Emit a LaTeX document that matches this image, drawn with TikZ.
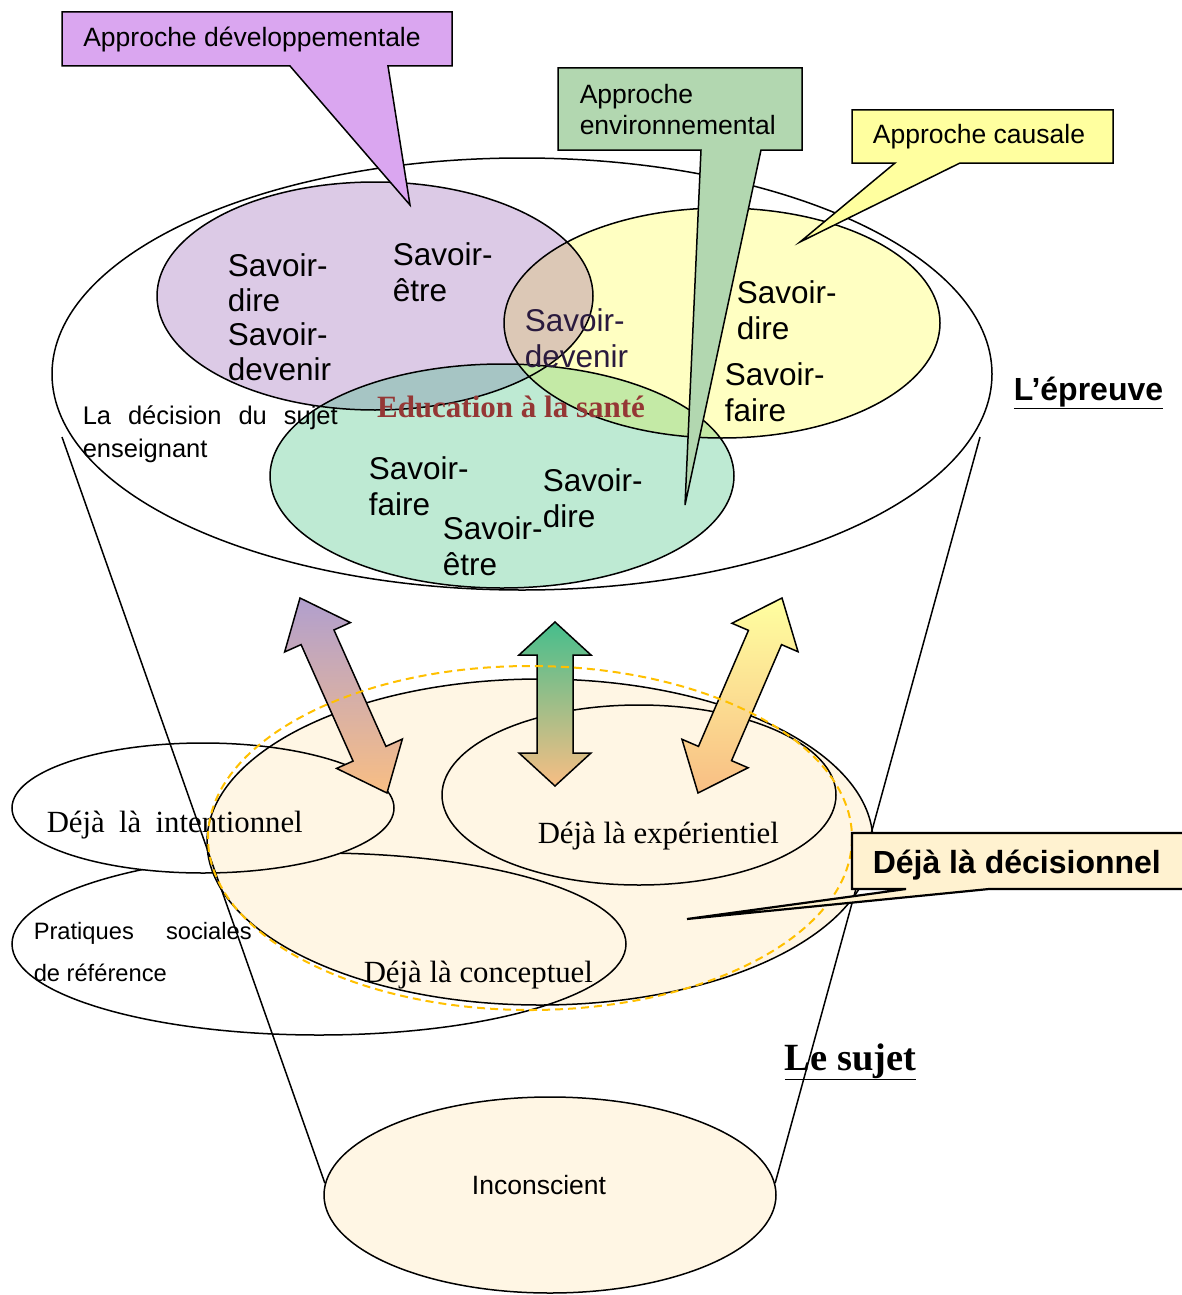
\documentclass[tikz,border=0pt]{standalone}
\usepackage{fontspec}
\setmainfont{Liberation Serif}
\setsansfont{Liberation Sans}
\usetikzlibrary{calc,shapes.geometric}

\definecolor{pfill}{HTML}{DCCAE6}
\definecolor{yfill}{HTML}{FFFFC2}
\definecolor{gfill}{HTML}{BEEAD3}
\definecolor{pyfill}{HTML}{DCC8B6}
\definecolor{pgfill}{HTML}{A6C5C4}
\definecolor{ygfill}{HTML}{C4EAA6}
\definecolor{cream}{HTML}{FFF6E4}
\definecolor{decfill}{HTML}{FFF2D0}
\definecolor{devfill}{HTML}{DAA6F0}
\definecolor{envfill}{HTML}{B2D7B0}
\definecolor{causfill}{HTML}{FFFF9F}
\definecolor{sante}{HTML}{953735}
\definecolor{aonetop}{HTML}{B19FCE}
\definecolor{atwotop}{HTML}{45BE8C}
\definecolor{athreetop}{HTML}{FFFFA0}
\definecolor{arrorange}{HTML}{F8BE84}
\definecolor{dashcol}{HTML}{FFC000}

\newcommand{\fsize}[2]{\fontsize{#1}{#2}\selectfont}

% the three approaches
\newcommand{\purpleoval}{(375,296) ellipse [x radius=218, y radius=114]}
\newcommand{\yellowoval}{(722,323) ellipse [x radius=218, y radius=115]}
\newcommand{\greenoval}{(502,476) ellipse [x radius=232, y radius=112]}
% the subject
\newcommand{\decoval}{(540,842) ellipse [x radius=333, y radius=163]}
\newcommand{\intoval}{(203,808) ellipse [x radius=191, y radius=65]}
\newcommand{\pratoval}{(319,944) ellipse [x radius=307, y radius=91]}
\newcommand{\expoval}{(639,795) ellipse [x radius=197, y radius=90]}

% double arrow between two tips, #3 = head length
\newcommand{\dblarrowpath}[3]{(#1) -- ($(#1)!#3!(#2)!36pt!90:(#2)$)
  -- ($(#1)!#3!(#2)!18pt!90:(#2)$) -- ($(#2)!#3!(#1)!18pt!-90:(#1)$)
  -- ($(#2)!#3!(#1)!36pt!-90:(#1)$) -- (#2)
  -- ($(#2)!#3!(#1)!36pt!90:(#1)$) -- ($(#2)!#3!(#1)!18pt!90:(#1)$)
  -- ($(#1)!#3!(#2)!18pt!-90:(#2)$) -- ($(#1)!#3!(#2)!36pt!-90:(#2)$) -- cycle}

\begin{document}
\begin{tikzpicture}[x=1pt, y=-1pt, line width=1.5pt,
    every node/.style={inner sep=0pt},
    savoir/.style={font=\sffamily\fsize{31.5}{36}, align=left, anchor=north west},
    dejala/.style={font=\fsize{30.8}{36}, anchor=base west},
    callout/.style={draw=black, line width=1.5pt},
    calltext/.style={font=\sffamily\fsize{26.5}{31}, align=left},
    arrowbody/.style={draw=black, line width=1.5pt, bottom color=arrorange}]
    \useasboundingbox (0,0) rectangle (1182,1295);

    % L'epreuve
    \draw (522,374) ellipse [x radius=470, y radius=216];

    % Approaches and their overlaps
    \fill[pfill] \purpleoval;
    \fill[yfill] \yellowoval;
    \fill[gfill] \greenoval;
    \begin{scope}
        \clip \purpleoval;
        \fill[pyfill] \yellowoval;
        \fill[pgfill] \greenoval;
    \end{scope}
    \begin{scope}
        \clip \yellowoval;
        \fill[ygfill] \greenoval;
    \end{scope}
    \draw \purpleoval;
    \draw \yellowoval;
    \draw \greenoval;

    % Savoirs
    \node[savoir, font=\sffamily\fsize{31.5}{34.5}] (pdire) at (227,253) {Savoir-\\dire\\Savoir-\\devenir};
    \node[savoir] (petre) at (392,242) {Savoir-\\être};
    \node[savoir, text={rgb,255:red,42;green,26;blue,62}] (pydevenir) at (524,308) {Savoir-\\devenir};
    \node[savoir] (ydire) at (736,280) {Savoir-\\dire};
    \node[savoir] (yfaire) at (724,362) {Savoir-\\faire};
    \node[savoir] (gfaire) at (368,456) {Savoir-\\faire};
    \node[savoir] (getre) at (442,516) {Savoir-\\être};
    \node[savoir] (gdire) at (542,468) {Savoir-\\dire};
    \node[font=\bfseries\fsize{31}{34}, text=sante, anchor=base] (sante) at (511,417) {Education à la santé};
    \node[font=\sffamily\fsize{25.5}{33}, align=left, anchor=north west] (decision) at (82,405)
        {\hbox to 255pt{La\hfill décision\hfill du\hfill sujet}\\enseignant};

    % Le sujet
    \fill[cream] \decoval;
    \begin{scope}[even odd rule]
        \clip (0,0) rectangle (1182,1295) \intoval;
        \draw \pratoval;
    \end{scope}
    \draw \intoval;
    \draw \expoval;
    \draw \decoval;

    \node[dejala] (intent) at (46,832) {\hbox to 256pt{Déjà\hfill là\hfill intentionnel}};
    \node[dejala] (experi) at (537,843) {Déjà là expérientiel};
    \node[dejala] (concept) at (363,982) {Déjà là conceptuel};
    \node[font=\sffamily\fsize{23.7}{42}, align=left, anchor=north west] (pratiques) at (33,922)
        {\hbox to 218pt{Pratiques\hfill sociales}\\de référence};

    \node[ellipse, draw, fill=cream, minimum width=452, minimum height=196] (incons) at (550,1195) {};
    \node[font=\sffamily\fsize{26.5}{30}] (inconslabel) at ($(incons)+(-11,-10)$) {Inconscient};

    % Cone
    \coordinate (coneL) at (62,437);
    \coordinate (coneR) at (980,437);
    \draw (coneL) -- (incons.177);
    \draw (coneR) -- (incons.3);

    % Double arrows
    \coordinate (a1t) at (300,598);
    \coordinate (a1b) at (387,793);
    \coordinate (a2t) at (555,622);
    \coordinate (a2b) at (555,786);
    \coordinate (a3t) at (782,598);
    \coordinate (a3b) at (698,793);
    \shade[arrowbody, top color=aonetop] \dblarrowpath{a1t}{a1b}{43pt};
    \shade[arrowbody, top color=atwotop] \dblarrowpath{a2t}{a2b}{33pt};
    \shade[arrowbody, top color=athreetop] \dblarrowpath{a3t}{a3b}{43pt};

    \draw[dashcol, dash pattern=on 8pt off 5pt, line width=2pt] (530,838) ellipse [x radius=322, y radius=172];

    % Callouts
    \coordinate (devtip) at (410,205);
    \coordinate (envtip) at (685,505);
    \coordinate (caustip) at (800,242);
    \coordinate (dectip) at (687,919);
    \filldraw[callout, fill=devfill] (62,12) -- (452,12) -- (452,66) -- (388,66) -- (devtip) -- (290,66) -- (62,66) -- cycle;
    \node[calltext] (devlabel) at (252,39) {Approche développementale};
    \filldraw[callout, fill=envfill] (558,68) -- (802,68) -- (802,150) -- (761,150) -- (envtip) -- (701,150) -- (558,150) -- cycle;
    \node[calltext, anchor=north west] (envlabel) at (579,84) {Approche\\environnemental};
    \filldraw[callout, fill=causfill] (852,110) -- (1113,110) -- (1113,163) -- (960,163) -- (caustip) -- (895,163) -- (852,163) -- cycle;
    \node[calltext] (causlabel) at (979,137) {Approche causale};
    \filldraw[callout, line width=2.2pt, fill=decfill] (852,833) -- (1195,833) -- (1195,889) -- (989,889) -- (dectip) -- (906,889) -- (852,889) -- cycle;
    \node[font=\sffamily\bfseries\fsize{32}{36}, anchor=base west] (declabel) at (872,873) {Déjà là décisionnel};

    % Titles
    \node[font=\sffamily\bfseries\fsize{32}{36}, anchor=base west] (epreuve) at (1013,400) {\underline{L’épreuve}};
    \node[font=\bfseries\fsize{38.5}{40}, anchor=base west] (sujet) at (784,1070) {\underline{Le sujet}};
\end{tikzpicture}
\end{document}
